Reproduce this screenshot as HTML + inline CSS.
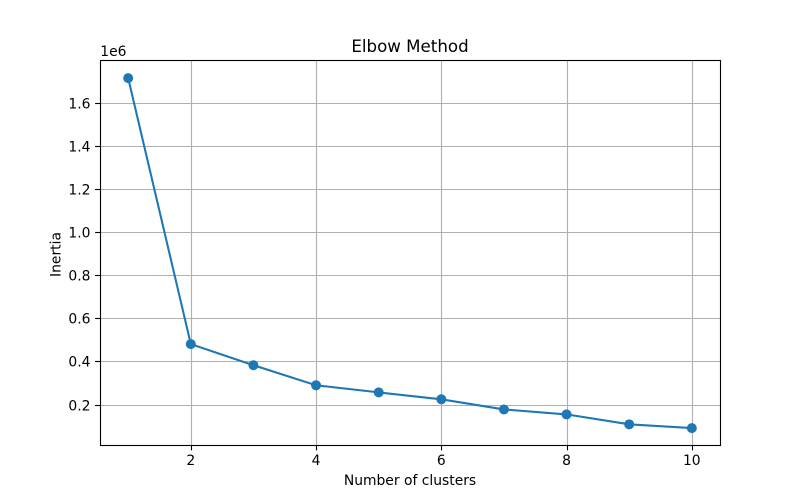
<!DOCTYPE html>
<html>
<head>
<meta charset="utf-8">
<title>Elbow Method</title>
<style>
html,body{margin:0;padding:0;background:#fff;}
svg{display:block;}
text{font-family:"DejaVu Sans","Liberation Sans",sans-serif;fill:#000;}
</style>
</head>
<body>
<svg id="chart" width="800" height="500" viewBox="0 0 800 500" xmlns="http://www.w3.org/2000/svg">
  <rect x="0" y="0" width="800" height="500" fill="#fff"/>
  <g id="grid"></g>
  <g id="series"></g>
  <g id="spines">
    <rect x="100.5" y="60.5" width="620" height="385" fill="none" stroke="#000" stroke-width="1.11"/>
  </g>
  <g id="ticks"></g>
  <text x="410" y="52" text-anchor="middle" font-size="16.67">Elbow Method</text>
  <text x="410" y="485" text-anchor="middle" font-size="13.89">Number of clusters</text>
  <text transform="translate(60.5 254.5) rotate(-90)" text-anchor="middle" font-size="13.89">Inertia</text>
  <text x="100.3" y="56" font-size="13.89">1e6</text>
</svg>
<script>
const clusters = [1, 2, 3, 4, 5, 6, 7, 8, 9, 10];
const inertia = [1.717, 0.484, 0.386, 0.293, 0.260, 0.228, 0.181, 0.158, 0.112, 0.0945];
const xTicks = [2, 4, 6, 8, 10];
const xTickLabels = ["2", "4", "6", "8", "10"];
const yTicks = [0.2, 0.4, 0.6, 0.8, 1.0, 1.2, 1.4, 1.6];
const yTickLabels = ["0.2", "0.4", "0.6", "0.8", "1.0", "1.2", "1.4", "1.6"];

const NS = "http://www.w3.org/2000/svg";
const plotLeft = 100, plotRight = 720, plotTop = 60.6, plotBottom = 445.6;

const xMinData = Math.min.apply(null, clusters), xMaxData = Math.max.apply(null, clusters);
const yMinData = Math.min.apply(null, inertia), yMaxData = Math.max.apply(null, inertia);
const xPad = (xMaxData - xMinData) * 0.05, yPad = (yMaxData - yMinData) * 0.05;
const xDomain0 = xMinData - xPad, xDomain1 = xMaxData + xPad;
const yDomain0 = yMinData - yPad, yDomain1 = yMaxData + yPad;

function xScale(v) {
  return plotLeft + (v - xDomain0) / (xDomain1 - xDomain0) * (plotRight - plotLeft);
}
function yScale(v) {
  return plotBottom - (v - yDomain0) / (yDomain1 - yDomain0) * (plotBottom - plotTop);
}
function snap(p) {
  return Math.round(p) + 0.5;
}
function make(tag, parent) {
  const el = document.createElementNS(NS, tag);
  parent.appendChild(el);
  return el;
}
function setLine(el, x1, y1, x2, y2, stroke, width) {
  el.setAttribute("x1", x1);
  el.setAttribute("y1", y1);
  el.setAttribute("x2", x2);
  el.setAttribute("y2", y2);
  el.setAttribute("stroke", stroke);
  el.setAttribute("stroke-width", width);
}

const gridG = document.getElementById("grid");
const ticksG = document.getElementById("ticks");
const seriesG = document.getElementById("series");

xTicks.forEach(function (t, i) {
  const x = snap(xScale(t));
  const g = make("line", gridG);
  
  
  setLine(g, x, 60, x, 445, "#b0b0b0", 1.11);
  const m = make("line", ticksG);
  
  
  setLine(m, x, 445, x, 450.4, "#000", 1.11);
  const l = make("text", ticksG);
  
  
  l.setAttribute("x", xScale(t));
  l.setAttribute("y", 465);
  l.setAttribute("text-anchor", "middle");
  l.setAttribute("font-size", "13.89");
  l.textContent = xTickLabels[i];
});

yTicks.forEach(function (t, i) {
  const y = snap(yScale(t) - 0.7);
  const g = make("line", gridG);
  
  
  setLine(g, plotLeft, y, plotRight, y, "#b0b0b0", 1.11);
  const m = make("line", ticksG);
  
  
  setLine(m, plotLeft - 4.9, y, plotLeft, y, "#000", 1.11);
  const l = make("text", ticksG);
  
  
  l.setAttribute("x", 90.5);
  l.setAttribute("y", y + 5);
  l.setAttribute("text-anchor", "end");
  l.setAttribute("font-size", "13.89");
  l.textContent = yTickLabels[i];
});

const linePath = make("polyline", seriesG);


linePath.setAttribute("fill", "none");
linePath.setAttribute("stroke", "#1f77b4");
linePath.setAttribute("stroke-width", "2.08");
linePath.setAttribute("points", clusters.map(function (c, i) {
  return xScale(c) + "," + yScale(inertia[i]);
}).join(" "));

clusters.forEach(function (c, i) {
  const p = make("circle", seriesG);
  
  
  p.setAttribute("cx", xScale(c));
  p.setAttribute("cy", yScale(inertia[i]));
  p.setAttribute("r", "5");
  p.setAttribute("fill", "#1f77b4");
});
</script>
</body>
</html>
